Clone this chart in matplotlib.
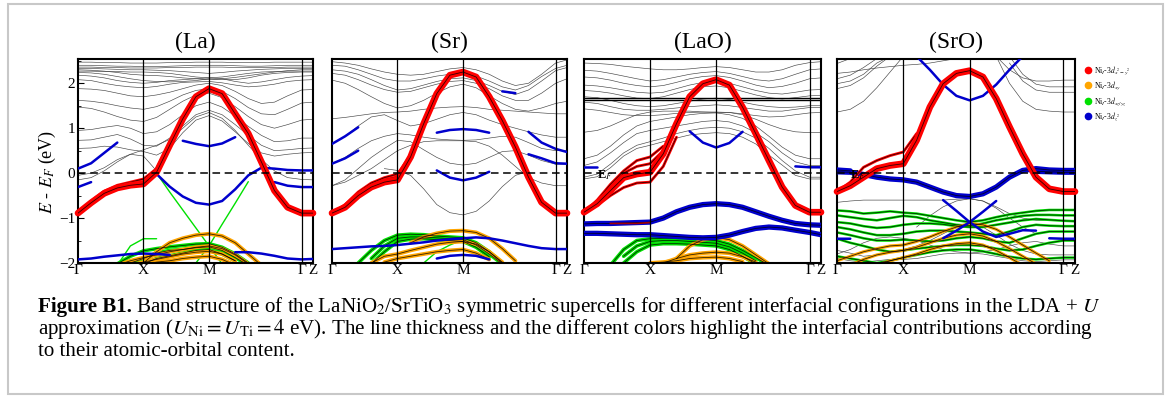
import numpy as np
import matplotlib
matplotlib.use("Agg")
import matplotlib.pyplot as plt
from matplotlib.lines import Line2D
from matplotlib.patches import Rectangle

plt.rcParams["font.family"] = ["Liberation Serif", "DejaVu Serif"]
plt.rcParams["mathtext.fontset"] = "stix"

N = np.nan

# k-path: Gamma - X - M - Gamma - Z
K = [0.0, 0.1, 0.2, 0.3, 0.4, 0.5, 0.6, 0.7, 0.8, 0.9, 1.0,
     1.1, 1.2, 1.3, 1.4, 1.5, 1.6, 1.707, 1.794]
KTICKS = [0.0, 0.5, 1.0, 1.707, 1.794]
KLABELS = ["Γ", "X", "M", "Γ", "Z"]
TITLES = ["(La)", "(Sr)", "(LaO)", "(SrO)"]
LEG_LABELS = [r"Ni$_I$-3$d_{x^2-y^2}$", r"Ni$_I$-3$d_{xy}$",
              r"Ni$_I$-3$d_{xz/yz}$", r"Ni$_I$-3$d_{z^2}$"]

# ---------------- (La) ----------------
LA_RED = [-0.89, -0.66, -0.45, -0.33, -0.27, -0.24, 0.02, 0.62, 1.21, 1.70, 1.88,
          1.77, 1.32, 0.88, 0.25, -0.39, -0.76, -0.89, -0.89]
LA_RED_THIN = [
    [-0.89, -0.62, -0.40, -0.27, -0.20, -0.13, 0.10, 0.65, N, N, N, N, N, N, N, N, N, N, N],
]
LA_BLUE = [
    [0.10, 0.22, 0.45, 0.68, N, N, N, N, N, N, N, N, N, N, N, N, N, N, N],
    [-0.31, -0.20, N, N, N, N, N, N, N, N, N, N, N, N, N, N, N, N, N],
    [N, N, N, N, N, N, N, N, 0.72, 0.65, 0.60, 0.66, 0.80, N, N, N, N, N, N],
    [N, N, N, N, N, N, -0.02, -0.30, -0.52, -0.66, -0.70, -0.62, -0.36, -0.05, 0.12, 0.10, 0.07, 0.06, 0.06],
    [N, N, N, N, N, N, N, N, N, N, N, N, N, N, N, -0.20, -0.28, -0.31, -0.31],
    [-1.92, -1.90, -1.86, -1.83, -1.80, -1.79, -1.80, -1.82, N, N, N, N, -1.76, -1.76, -1.79, -1.84, -1.90, -1.92, -1.91],
]
LA_BLUE_THICK = []
LA_GREEN = [
    [N, N, N, N, N, N, 0.00, -0.42, -0.82, -1.22, -1.62, -2.02, N, N, N, N, N, N, N],
    [N, N, N, N, N, N, N, N, N, -2.00, -1.62, -1.14, -0.67, -0.19, N, N, N, N, N],
    [N, N, N, -2.05, -1.62, -1.46, -1.46, N, N, N, N, N, N, N, N, N, N, N, N],
]
LA_GREEN_THICK = [
    [N, N, N, -2.02, -1.85, -1.73, -1.68, -1.64, -1.61, -1.58, -1.57, -1.65, -1.80, -2.00, N, N, N, N, N],
    [N, N, N, N, -2.00, -1.90, -1.78, -1.72, -1.70, -1.66, -1.64, -1.72, -1.88, -2.05, N, N, N, N, N],
    [N, N, N, N, N, -2.02, -1.90, -1.84, -1.78, -1.72, -1.70, -1.80, -1.95, N, N, N, N, N, N],
]
LA_ORANGE = [
    [N, N, N, N, N, -2.00, -1.75, -1.55, -1.45, -1.38, -1.35, -1.40, -1.55, -1.80, -2.05, N, N, N, N],
    [N, N, N, -2.05, -1.95, -1.88, -1.82, -1.75, -1.70, -1.65, -1.62, -1.68, -1.82, -2.02, N, N, N, N, N],
    [N, N, N, N, -2.05, -1.98, -1.92, -1.86, -1.80, -1.76, -1.74, -1.80, -1.95, N, N, N, N, N, N],
    [N, N, N, N, N, -2.04, -1.98, -1.95, -1.90, -1.87, -1.85, -1.92, -2.05, N, N, N, N, N, N],
]
LA_GREY = [
    [2.47, 2.47, 2.46, 2.46, 2.45, 2.45, 2.45, 2.46, 2.46, 2.47, 2.47, 2.47, 2.46, 2.46, 2.46, 2.47, 2.47, 2.47, 2.47],
    [2.40, 2.40, 2.39, 2.38, 2.38, 2.37, 2.37, 2.38, 2.39, 2.40, 2.40, 2.40, 2.39, 2.38, 2.38, 2.39, 2.40, 2.40, 2.40],
    [2.36, 2.36, 2.35, 2.35, 2.34, 2.34, 2.34, 2.35, 2.35, 2.36, 2.36, 2.36, 2.35, 2.35, 2.35, 2.35, 2.36, 2.36, 2.36],
    [2.33, 2.33, 2.32, 2.31, 2.30, 2.30, 2.29, 2.28, 2.26, 2.24, 2.22, 2.24, 2.27, 2.29, 2.31, 2.32, 2.33, 2.33, 2.33],
    [2.30, 2.29, 2.27, 2.24, 2.20, 2.18, 2.17, 2.15, 2.12, 2.10, 2.08, 2.10, 2.13, 2.17, 2.21, 2.25, 2.28, 2.30, 2.30],
    [2.27, 2.27, 2.26, 2.26, 2.25, 2.25, 2.24, 2.22, 2.18, 2.14, 2.12, 2.14, 2.18, 2.22, 2.25, 2.26, 2.27, 2.27, 2.27],
    [2.24, 2.23, 2.20, 2.15, 2.10, 2.06, 2.04, 2.03, 2.04, 2.06, 2.10, 2.08, 2.08, 2.12, 2.18, 2.22, 2.24, 2.25, 2.25],
    [2.18, 2.16, 2.12, 2.06, 2.02, 2.00, 2.02, 2.06, 2.08, 2.10, 2.12, 2.10, 2.04, 2.00, 2.03, 2.08, 2.13, 2.16, 2.17],
    [2.08, 2.06, 2.00, 1.95, 1.92, 1.90, 1.93, 1.98, 2.02, 2.03, 2.04, 2.01, 1.96, 1.92, 1.94, 1.98, 2.04, 2.07, 2.08],
    [1.88, 1.87, 1.84, 1.78, 1.72, 1.70, 1.74, 1.80, 1.88, 1.96, 2.00, 1.95, 1.82, 1.66, 1.55, 1.58, 1.72, 1.85, 1.86],
    [1.62, 1.60, 1.56, 1.50, 1.45, 1.42, 1.48, 1.60, 1.74, 1.84, 1.88, 1.82, 1.66, 1.46, 1.32, 1.30, 1.42, 1.56, 1.58],
    [1.47, 1.44, 1.36, 1.26, 1.18, 1.15, 1.24, 1.42, 1.60, 1.74, 1.78, 1.68, 1.48, 1.26, 1.08, 1.00, 1.08, 1.18, 1.20],
    [0.95, 0.97, 1.02, 1.06, 1.00, 0.88, 0.92, 1.08, 1.30, 1.50, 1.58, 1.47, 1.27, 1.04, 0.84, 0.70, 0.72, 0.78, 0.78],
    [0.73, 0.74, 0.80, 0.86, 0.76, 0.62, 0.60, 0.78, 1.05, 1.30, 1.40, 1.30, 1.08, 0.84, 0.62, 0.50, 0.52, 0.55, 0.56],
    [0.55, 0.56, 0.60, 0.58, 0.52, 0.48, 0.40, 0.55, 0.90, 1.18, 1.28, 1.16, 0.92, 0.66, 0.45, 0.38, 0.42, 0.45, 0.46],
    [-0.05, 0.00, 0.12, 0.30, 0.42, 0.38, 0.05, N, N, N, N, N, N, N, N, N, N, N, N],
    [-0.15, -0.10, 0.05, 0.25, 0.42, 0.52, 0.62, 0.75, 1.00, 1.25, 1.35, 1.22, 0.95, 0.62, 0.30, 0.05, -0.10, -0.14, -0.15],
]

# ---------------- (Sr) ----------------
SR_RED = [-0.89, -0.76, -0.50, -0.31, -0.20, -0.15, 0.36, 1.10, 1.77, 2.18, 2.25,
          2.14, 1.70, 1.17, 0.58, -0.09, -0.65, -0.89, -0.89]
SR_RED_THIN = [
    [-0.89, -0.70, -0.42, -0.22, -0.10, -0.02, 0.40, N, N, N, N, N, N, N, N, N, N, N, N],
    [-0.89, -0.73, -0.46, -0.26, -0.15, -0.08, 0.38, N, N, N, N, N, N, N, N, N, N, N, N],
]
SR_BLUE = [
    [0.65, 0.82, 1.02, N, N, N, N, N, N, N, N, N, N, N, N, N, N, N, N],
    [0.21, 0.33, 0.50, N, N, N, N, N, N, N, N, N, N, N, N, N, N, N, N],
    [N, N, N, N, N, N, N, N, 0.06, -0.10, -0.16, -0.10, 0.03, N, N, N, N, N, N],
    [N, N, N, N, N, N, N, N, 0.90, 0.96, 0.98, 0.96, 0.90, N, N, N, N, N, N],
    [N, N, N, N, N, N, N, N, N, N, N, N, N, 1.82, 1.78, N, N, N, N],
    [N, N, N, N, N, N, N, N, N, N, N, N, N, N, N, 0.92, 0.68, 0.54, 0.47],
    [N, N, N, N, N, N, N, N, N, N, N, N, N, N, N, 0.42, 0.33, 0.22, 0.21],
    [-1.69, -1.67, -1.65, -1.63, -1.62, -1.60, -1.57, -1.54, -1.50, -1.47, -1.45, -1.43, -1.45, -1.50, -1.56, -1.62, -1.67, -1.69, -1.69],
    [N, N, N, N, N, N, N, N, -1.90, -1.84, -1.82, -1.84, -1.92, N, N, N, N, N, N],
]
SR_BLUE_THICK = []
SR_GREEN = [
    [N, N, N, N, N, N, N, -2.00, -1.75, -1.60, -1.48, -1.62, -1.85, N, N, N, N, N, N],
]
SR_GREEN_THICK = [
    [N, N, -2.00, -1.72, -1.50, -1.38, -1.36, -1.37, -1.40, -1.42, -1.44, -1.55, -1.75, -2.00, N, N, N, N, N],
    [N, N, N, -1.90, -1.62, -1.45, -1.42, -1.42, -1.44, -1.46, -1.48, -1.60, -1.80, -2.02, N, N, N, N, N],
    [N, N, N, -2.02, -1.75, -1.52, -1.47, -1.46, -1.48, -1.50, -1.52, -1.65, -1.86, N, N, N, N, N, N],
]
SR_ORANGE = [
    [N, N, N, N, N, N, -1.55, -1.42, -1.34, -1.29, -1.28, -1.32, -1.45, -1.68, -1.95, N, N, N, N],
    [N, N, N, -2.00, -1.85, -1.80, -1.72, -1.65, -1.58, -1.54, -1.52, -1.58, -1.75, -1.98, N, N, N, N, N],
    [N, N, N, N, -1.98, -1.90, -1.85, -1.80, -1.75, -1.72, -1.70, -1.78, -1.92, N, N, N, N, N, N],
]
SR_GREY = [
    [2.48, 2.45, 2.40, 2.32, 2.25, 2.20, 2.18, 2.20, 2.26, 2.32, 2.35, 2.30, 2.20, 2.05, 1.95, 2.00, 2.20, 2.45, 2.52],
    [2.40, 2.38, 2.30, 2.20, 2.10, 2.05, 2.05, 2.10, 2.16, 2.20, 2.22, 2.16, 2.05, 1.92, 1.85, 1.95, 2.15, 2.33, 2.40],
    [2.30, 2.27, 2.20, 2.08, 1.95, 1.85, 1.88, 1.96, 2.04, 2.10, 2.12, 2.06, 1.95, 1.82, 1.75, 1.85, 2.05, 2.28, 2.35],
    [2.22, 2.18, 2.08, 1.96, 1.86, 1.80, 1.82, 1.90, 1.98, 2.04, 2.06, 2.00, 1.88, 1.72, 1.62, 1.62, 1.78, 2.00, 2.10],
    [2.07, 2.00, 1.86, 1.70, 1.55, 1.45, 1.50, 1.62, 1.78, 1.92, 1.98, 1.90, 1.72, 1.55, 1.42, 1.38, 1.45, 1.55, 1.60],
    [1.21, 1.24, 1.28, 1.32, 1.35, 1.36, 1.38, 1.42, 1.45, 1.47, 1.48, 1.46, 1.42, 1.40, 1.38, 1.36, 1.34, 1.32, 1.32],
    [0.65, 0.82, 1.05, 1.25, 1.30, 1.17, 1.05, 1.10, 1.20, 1.30, 1.35, 1.30, 1.18, 1.08, 1.00, 0.92, 0.85, 0.80, 0.80],
    [0.21, 0.35, 0.55, 0.72, 0.82, 0.88, 0.85, 0.80, 0.76, 0.74, 0.73, 0.74, 0.78, 0.82, 0.80, 0.68, 0.55, 0.50, 0.50],
    [-0.28, -0.15, 0.10, 0.35, 0.55, 0.73, 0.70, 0.52, 0.35, 0.22, 0.18, 0.22, 0.35, 0.48, 0.50, 0.40, 0.28, 0.20, 0.20],
    [N, N, N, N, 0.10, 0.06, -0.05, -0.35, -0.70, -0.88, -0.93, -0.85, -0.62, -0.30, -0.05, 0.04, N, N, N],
    [-0.28, -0.20, -0.05, 0.10, 0.30, 0.50, 0.62, 0.70, 0.72, 0.72, 0.72, 0.70, 0.60, 0.40, 0.15, -0.10, -0.22, -0.28, -0.28],
]

# ---------------- (LaO) ----------------
LAO_RED = [-0.87, -0.68, -0.39, -0.10, -0.02, 0.02, 0.43, 1.10, 1.70, 1.99, 2.08,
           1.96, 1.47, 0.88, 0.28, -0.31, -0.72, -0.87, -0.87]
LAO_RED_THIN = [
    [-0.87, -0.60, -0.25, 0.05, 0.28, 0.36, 0.60, N, N, N, N, N, N, N, N, N, N, N, N],
    [-0.87, -0.64, -0.32, 0.00, 0.15, 0.21, 0.50, N, N, N, N, N, N, N, N, N, N, N, N],
    [-0.87, -0.72, -0.50, -0.32, -0.22, -0.20, 0.15, 0.80, N, N, N, N, N, N, N, N, N, N, N],
]
LAO_BLUE = [
    [N, N, N, N, N, N, N, N, 0.93, 0.68, 0.57, 0.67, 0.92, N, N, N, N, N, N],
    [0.13, 0.13, N, N, N, N, N, N, N, N, N, N, N, N, N, N, N, N, N],
    [N, N, N, N, N, N, N, N, N, N, N, N, N, N, N, N, 0.15, 0.13, 0.13],
]
LAO_BLUE_THICK = [
    [-1.13, -1.12, -1.12, -1.11, -1.10, -1.09, -1.00, -0.86, -0.76, -0.70, -0.68,
     -0.70, -0.76, -0.86, -0.96, -1.05, -1.12, -1.15, -1.16],
    [-1.34, -1.34, -1.35, -1.36, -1.37, -1.37, -1.39, -1.41, -1.43, -1.44, -1.43,
     -1.38, -1.30, -1.23, -1.20, -1.22, -1.27, -1.32, -1.37],
]
LAO_DARKRED = [N, N, -1.12, -1.12, -1.12, -1.10, N, N, N, N, N, N, N, N, N, N, N, N, N]
LAO_GREEN = []
LAO_GREEN_THICK = [
    [N, N, -2.05, -1.70, -1.50, -1.46, -1.45, -1.45, -1.46, -1.48, -1.50, -1.58, -1.72, -1.88, -2.05, N, N, N, N],
    [N, N, N, -1.85, -1.62, -1.52, -1.50, -1.50, -1.52, -1.54, -1.56, -1.64, -1.78, -1.95, N, N, N, N, N],
    [N, N, N, -2.00, -1.75, -1.60, -1.57, -1.57, -1.58, -1.60, -1.62, -1.70, -1.85, -2.02, N, N, N, N, N],
]
LAO_ORANGE = [
    [N, N, N, N, N, N, N, -1.90, -1.62, -1.48, -1.43, -1.48, -1.62, -1.82, -2.02, N, N, N, N],
    [N, N, N, N, N, N, -2.00, -1.90, -1.82, -1.78, -1.76, -1.78, -1.86, -1.98, N, N, N, N, N],
    [N, N, N, N, N, -2.00, -1.98, -1.95, -1.90, -1.88, -1.87, -1.90, -1.97, N, N, N, N, N, N],
]
LAO_GREY = [
    [2.45, 2.44, 2.42, 2.38, 2.35, 2.32, 2.30, 2.30, 2.32, 2.35, 2.37, 2.35, 2.30, 2.25, 2.25, 2.30, 2.40, 2.46, 2.48],
    [2.29, 2.27, 2.22, 2.16, 2.10, 2.05, 2.08, 2.14, 2.20, 2.24, 2.26, 2.22, 2.15, 2.08, 2.05, 2.10, 2.20, 2.30, 2.32],
    [2.14, 2.12, 2.07, 2.00, 1.95, 1.92, 1.95, 2.02, 2.10, 2.15, 2.17, 2.13, 2.05, 1.96, 1.90, 1.93, 2.00, 2.10, 2.12],
    [1.96, 1.94, 1.90, 1.85, 1.80, 1.78, 1.80, 1.88, 1.96, 2.02, 2.04, 2.00, 1.92, 1.84, 1.78, 1.76, 1.80, 1.85, 1.86],
    [1.84, 1.82, 1.78, 1.72, 1.67, 1.66, 1.70, 1.78, 1.86, 1.92, 1.94, 1.90, 1.82, 1.74, 1.68, 1.65, 1.68, 1.72, 1.73],
    [1.70, 1.68, 1.62, 1.55, 1.50, 1.48, 1.50, 1.55, 1.60, 1.65, 1.67, 1.64, 1.58, 1.52, 1.48, 1.46, 1.47, 1.50, 1.50],
    [1.58, 1.55, 1.48, 1.42, 1.40, 1.40, 1.42, 1.45, 1.48, 1.50, 1.52, 1.50, 1.46, 1.42, 1.38, 1.38, 1.42, 1.46, 1.46],
    [1.43, 1.40, 1.35, 1.30, 1.28, 1.28, 1.30, 1.33, 1.35, 1.36, 1.36, 1.35, 1.32, 1.28, 1.25, 1.26, 1.30, 1.34, 1.35],
    [0.91, 0.95, 1.05, 1.18, 1.30, 1.36, 1.38, 1.38, 1.38, 1.36, 1.35, 1.35, 1.30, 1.20, 1.08, 0.98, 0.92, 0.90, 0.90],
    [0.32, 0.40, 0.60, 0.85, 1.05, 1.15, 1.20, 1.25, 1.30, 1.33, 1.34, 1.30, 1.22, 1.05, 0.82, 0.58, 0.40, 0.32, 0.32],
    [0.17, 0.25, 0.45, 0.68, 0.88, 0.95, 1.00, 1.05, 1.10, 1.15, 1.17, 1.14, 1.05, 0.90, 0.70, 0.45, 0.25, 0.17, 0.17],
    [-0.09, -0.02, 0.20, 0.45, 0.62, 0.70, 0.78, 0.88, 0.95, 1.00, 1.02, 1.00, 0.92, 0.78, 0.55, 0.28, 0.05, -0.09, -0.09],
    [-0.13, -0.08, 0.12, 0.38, 0.55, 0.62, 0.70, 0.78, 0.85, 0.88, 0.90, 0.88, 0.80, 0.65, 0.40, 0.18, -0.05, -0.13, -0.13],
]
LAO_FLAT = [1.67, 1.62]

# ---------------- (SrO) ----------------
SRO_RED = [-0.41, -0.28, -0.09, 0.10, 0.17, 0.21, 0.73, 1.47, 1.99, 2.22, 2.28,
           2.14, 1.66, 1.03, 0.43, -0.09, -0.35, -0.41, -0.41]
SRO_RED_THIN = [
    [-0.41, -0.20, 0.13, 0.28, 0.39, 0.47, 0.88, N, N, N, N, N, N, N, N, N, N, N, N],
]
SRO_BLUE = [
    [N, N, N, N, N, N, N, N, -0.60, -0.84, -1.09, -1.30, -1.42, -1.35, -1.27, -1.28, N, N, N],
    [N, N, N, N, N, N, N, N, -1.45, -1.28, -1.09, -0.86, -0.62, N, N, N, N, N, N],
    [N, N, N, N, N, N, 2.60, 2.30, 1.97, 1.72, 1.62, 1.72, 1.97, 2.30, 2.60, N, N, N, N],
    [-1.46, -1.46, N, N, N, N, N, N, N, N, N, N, N, N, N, N, -1.45, -1.46, -1.46],
]
SRO_BLUE_THICK = [
    [0.03, 0.02, -0.03, -0.09, -0.13, -0.15, -0.20, -0.31, -0.42, -0.50, -0.52,
     -0.46, -0.31, -0.09, 0.06, 0.10, 0.07, 0.06, 0.06],
    [0.07, 0.05, N, N, N, N, N, N, N, N, N, N, N, N, N, 0.04, 0.03, 0.02, 0.02],
]
SRO_GREEN = [
    [-0.83, -0.85, -0.90, -0.88, -0.85, -0.88, -0.90, -0.95, -1.00, -1.05, -1.09, -1.05, -0.98, -0.92, -0.88, -0.84, -0.82, -0.82, -0.82],
    [-0.94, -0.98, -1.02, -1.05, -1.00, -0.95, -0.98, -1.05, -1.10, -1.15, -1.17, -1.12, -1.05, -1.00, -0.95, -0.93, -0.93, -0.94, -0.94],
    [-1.09, -1.12, -1.18, -1.22, -1.20, -1.15, -1.12, -1.12, -1.14, -1.18, -1.20, -1.20, -1.15, -1.10, -1.05, -1.02, -1.04, -1.06, -1.07],
    [-1.20, -1.25, -1.32, -1.38, -1.38, -1.35, -1.30, -1.28, -1.28, -1.30, -1.32, -1.35, -1.38, -1.30, -1.20, -1.15, -1.17, -1.18, -1.18],
    [-1.32, -1.38, -1.45, -1.50, -1.50, -1.48, -1.50, -1.52, -1.50, -1.45, -1.42, -1.45, -1.52, -1.55, -1.45, -1.35, -1.30, -1.30, -1.30],
    [-1.46, -1.55, -1.62, -1.70, -1.75, -1.72, -1.68, -1.65, -1.62, -1.60, -1.60, -1.62, -1.68, -1.72, -1.70, -1.62, -1.55, -1.50, -1.50],
    [-1.85, -1.90, -1.95, -2.00, -1.95, -1.88, -1.82, -1.76, -1.72, -1.70, -1.70, -1.74, -1.80, -1.86, -1.90, -1.92, -1.90, -1.88, -1.88],
]
SRO_GREEN_THICK = []
SRO_ORANGE = [
    [-1.95, -1.85, -1.75, -1.68, -1.62, -1.60, -1.52, -1.42, -1.30, -1.20, -1.12, -1.15, -1.25, -1.42, -1.60, -1.78, -1.95, N, N],
    [N, -2.05, -1.92, -1.82, -1.76, -1.72, -1.65, -1.55, -1.45, -1.38, -1.35, -1.40, -1.52, -1.68, -1.85, -2.02, N, N, N],
    [N, N, N, -2.05, -1.95, -1.88, -1.80, -1.70, -1.62, -1.57, -1.55, -1.60, -1.72, -1.88, -2.05, N, N, N, N],
]
SRO_GREY = [
    [2.44, 2.55, N, N, N, N, N, N, N, N, N, N, N, N, N, N, N, N, N],
    [2.22, 2.25, 2.30, 2.34, 2.37, 2.40, 2.42, 2.45, 2.50, 2.55, N, N, N, N, N, N, N, N, N],
    [2.10, 2.18, 2.35, 2.55, N, N, N, N, N, N, N, N, N, N, N, N, N, N, N],
    [1.99, 2.05, 2.20, 2.45, 2.60, N, N, N, N, N, N, N, N, N, N, N, N, N, N],
    [1.88, 1.95, 2.12, 2.38, 2.60, N, N, N, N, N, N, N, N, N, N, N, N, N, N],
    [1.36, 1.42, 1.60, 1.90, 2.25, 2.60, N, N, N, N, N, N, N, N, N, N, N, N, N],
    [N, N, N, N, N, N, N, N, N, N, N, N, 2.60, 2.30, 2.12, 2.05, 2.05, 2.07, 2.07],
    [N, N, N, N, N, N, N, N, N, N, N, N, N, 2.60, 2.20, 1.98, 1.92, 1.92, 1.92],
    [N, N, N, N, N, N, N, N, N, N, N, N, N, 2.45, 2.05, 1.85, 1.80, 1.80, 1.80],
    [N, N, N, N, N, N, N, N, N, N, N, N, 2.60, 2.00, 1.60, 1.42, 1.38, 1.36, 1.36],
    [-0.65, -0.62, -0.60, -0.60, -0.60, -0.60, -0.60, -0.60, -0.60, -0.58, -0.57, -0.62, -0.75, -0.90, -1.00, -1.05, -1.05, -1.05, -1.05],
    [N, N, N, N, N, N, -1.20, -0.95, -0.75, -0.62, -0.57, -0.62, -0.78, -1.00, -1.20, -1.35, N, N, N],
    [-1.72, -1.78, -1.85, -1.82, -1.75, -1.70, -1.62, -1.50, -1.35, -1.20, -1.12, -1.20, -1.38, -1.58, -1.72, -1.80, -1.82, -1.82, -1.82],
    [-1.90, -1.95, -1.98, -1.95, -1.92, -1.92, -1.90, -1.85, -1.80, -1.78, -1.78, -1.80, -1.85, -1.90, -1.95, -1.97, -1.95, -1.93, -1.93],
    [-1.80, -1.70, -1.55, -1.45, -1.42, -1.45, -1.50, -1.60, -1.70, -1.75, -1.78, -1.75, -1.70, -1.62, -1.55, -1.52, -1.58, -1.62, -1.62],
]

PANELS = [
    dict(grey=LA_GREY, green=LA_GREEN, green_thick=LA_GREEN_THICK, orange=LA_ORANGE,
         blue=LA_BLUE, blue_thick=LA_BLUE_THICK, red_thin=LA_RED_THIN, red=LA_RED),
    dict(grey=SR_GREY, green=SR_GREEN, green_thick=SR_GREEN_THICK, orange=SR_ORANGE,
         blue=SR_BLUE, blue_thick=SR_BLUE_THICK, red_thin=SR_RED_THIN, red=SR_RED),
    dict(grey=LAO_GREY, green=LAO_GREEN, green_thick=LAO_GREEN_THICK, orange=LAO_ORANGE,
         blue=LAO_BLUE, blue_thick=LAO_BLUE_THICK, red_thin=LAO_RED_THIN, red=LAO_RED),
    dict(grey=SRO_GREY, green=SRO_GREEN, green_thick=SRO_GREEN_THICK, orange=SRO_ORANGE,
         blue=SRO_BLUE, blue_thick=SRO_BLUE_THICK, red_thin=SRO_RED_THIN, red=SRO_RED),
]

RED, ORANGE, GREEN, BLUE = "#ff0000", "#ffa500", "#00e000", "#0000cc"

W, H = 1170, 396
fig = plt.figure(figsize=(W / 100, H / 100), dpi=100)
fig.add_artist(Rectangle((8 / W, 1 - 394 / H), 1155 / W, 390 / H, transform=fig.transFigure,
                         fill=False, edgecolor="#c8c8c8", lw=1.5))

# axes boxes in pixels: left, right
BOX = [(78, 313), (332, 567), (584, 821), (837, 1075)]
TOP, BOT = 59, 263


def band(ax, e, color, lw, core=True, z=3, clip=True):
    ax.plot(K, e, color=color, lw=lw, solid_capstyle="round", zorder=z, clip_on=clip)
    if core:
        ax.plot(K, e, color="black", lw=0.6, alpha=0.8, zorder=z + 0.5)


for i, (p, (x0, x1)) in enumerate(zip(PANELS, BOX)):
    ax = fig.add_axes([x0 / W, 1 - BOT / H, (x1 - x0) / W, (BOT - TOP) / H])
    for e in p["grey"]:
        ax.plot(K, e, color="#444444", lw=0.45, zorder=1)
    if i == 2:
        for v in LAO_FLAT:
            ax.axhline(v, color="black", lw=1.0, zorder=1)
    for e in p["green_thick"]:
        band(ax, e, GREEN, 2.6, z=2)
    for e in p["green"]:
        band(ax, e, GREEN, 1.0 if i < 3 else 1.8, core=(i == 3), z=2)
    for e in p["orange"]:
        band(ax, e, ORANGE, 2.8 if i < 3 else 2.2, z=2.2)
    for e in p["blue"]:
        band(ax, e, BLUE, 1.8, core=False, z=3)
    for e in p["blue_thick"]:
        band(ax, e, BLUE, 3.8, z=3)
    if i == 2:
        ax.plot(K, LAO_DARKRED, color="#a00000", lw=1.2, zorder=4)
    for e in p["red_thin"]:
        band(ax, e, RED, 2.0, z=4)
    band(ax, p["red"], RED, 4.8, z=5, clip=False)

    ax.axhline(0, color="black", lw=1.1, ls=(0, (5, 3)), zorder=6)
    for k in KTICKS[1:4]:
        ax.axvline(k, color="black", lw=0.9, zorder=6)
    ax.set_xlim(K[0], K[-1])
    ax.set_ylim(-2, 2.54)
    ax.set_xticks(KTICKS)
    ax.set_xticklabels(KLABELS, fontsize=11)
    ax.tick_params(axis="x", length=0, pad=1)
    for s in ax.spines.values():
        s.set_linewidth(1.5)
    if i == 0:
        ax.set_yticks([-2, -1, 0, 1, 2])
        ax.set_yticks([-1.5, -0.5, 0.5, 1.5, 2.5], minor=True)
        ax.tick_params(axis="y", which="major", direction="in", length=4, labelsize=11, pad=2)
        ax.tick_params(axis="y", which="minor", direction="in", length=2)
    else:
        ax.set_yticks([])
    fig.text((x0 + x1) / 2 / W, 1 - 42 / H, TITLES[i], ha="center", va="center", fontsize=17)
    if i >= 2:
        ax.text(0.16, -0.04, r"E$_F$", fontsize=9, fontweight="bold",
                ha="center", va="center", zorder=7)

fig.text(47 / W, 1 - 172 / H, r"$E$ - $E_F$ (eV)", rotation=90, ha="center", va="center",
         fontsize=13)

handles = [Line2D([], [], ls="", marker="o", ms=4.5, color=c) for c in (RED, ORANGE, GREEN, BLUE)]
fig.legend(handles, LEG_LABELS, loc="upper left", bbox_to_anchor=(1082 / W, 1 - 60 / H),
           frameon=False, fontsize=5.5, handlelength=0.6, handletextpad=0.5,
           labelspacing=0.35, borderpad=0)

# caption, sized so that the first line spans the reference width
CAP1 = (r"Band structure of the LaNiO$_2$/SrTiO$_3$ symmetric supercells for different "
        r"interfacial configurations in the LDA + $U$")
CAP2 = (r"approximation ($U_{\rm Ni} = U_{\rm Ti} = 4$ eV). The line thickness and the different "
        r"colors highlight the interfacial contributions according")
CAP3 = "to their atomic-orbital content."
fig.canvas.draw()
r = fig.canvas.get_renderer()
t1 = fig.text(0, 0, "Figure B1. ", fontweight="bold", fontsize=10)
t2 = fig.text(0, 0, CAP1, fontsize=10)
w10 = t1.get_window_extent(r).width + t2.get_window_extent(r).width
t1.remove(); t2.remove()
cap_fs = 10 * 1066 / w10

t = fig.text(38 / W, 1 - 307 / H, "Figure B1.", fontweight="bold", fontsize=cap_fs,
             ha="left", va="center")
wpx = t.get_window_extent(r).width
fig.text((38 + wpx + 0.28 * cap_fs) / W, 1 - 307 / H, CAP1, fontsize=cap_fs, ha="left", va="center")
fig.text(38 / W, 1 - 329 / H, CAP2, fontsize=cap_fs, ha="left", va="center")
fig.text(38 / W, 1 - 351 / H, CAP3, fontsize=cap_fs, ha="left", va="center")

fig.savefig("out.png", dpi=100)
